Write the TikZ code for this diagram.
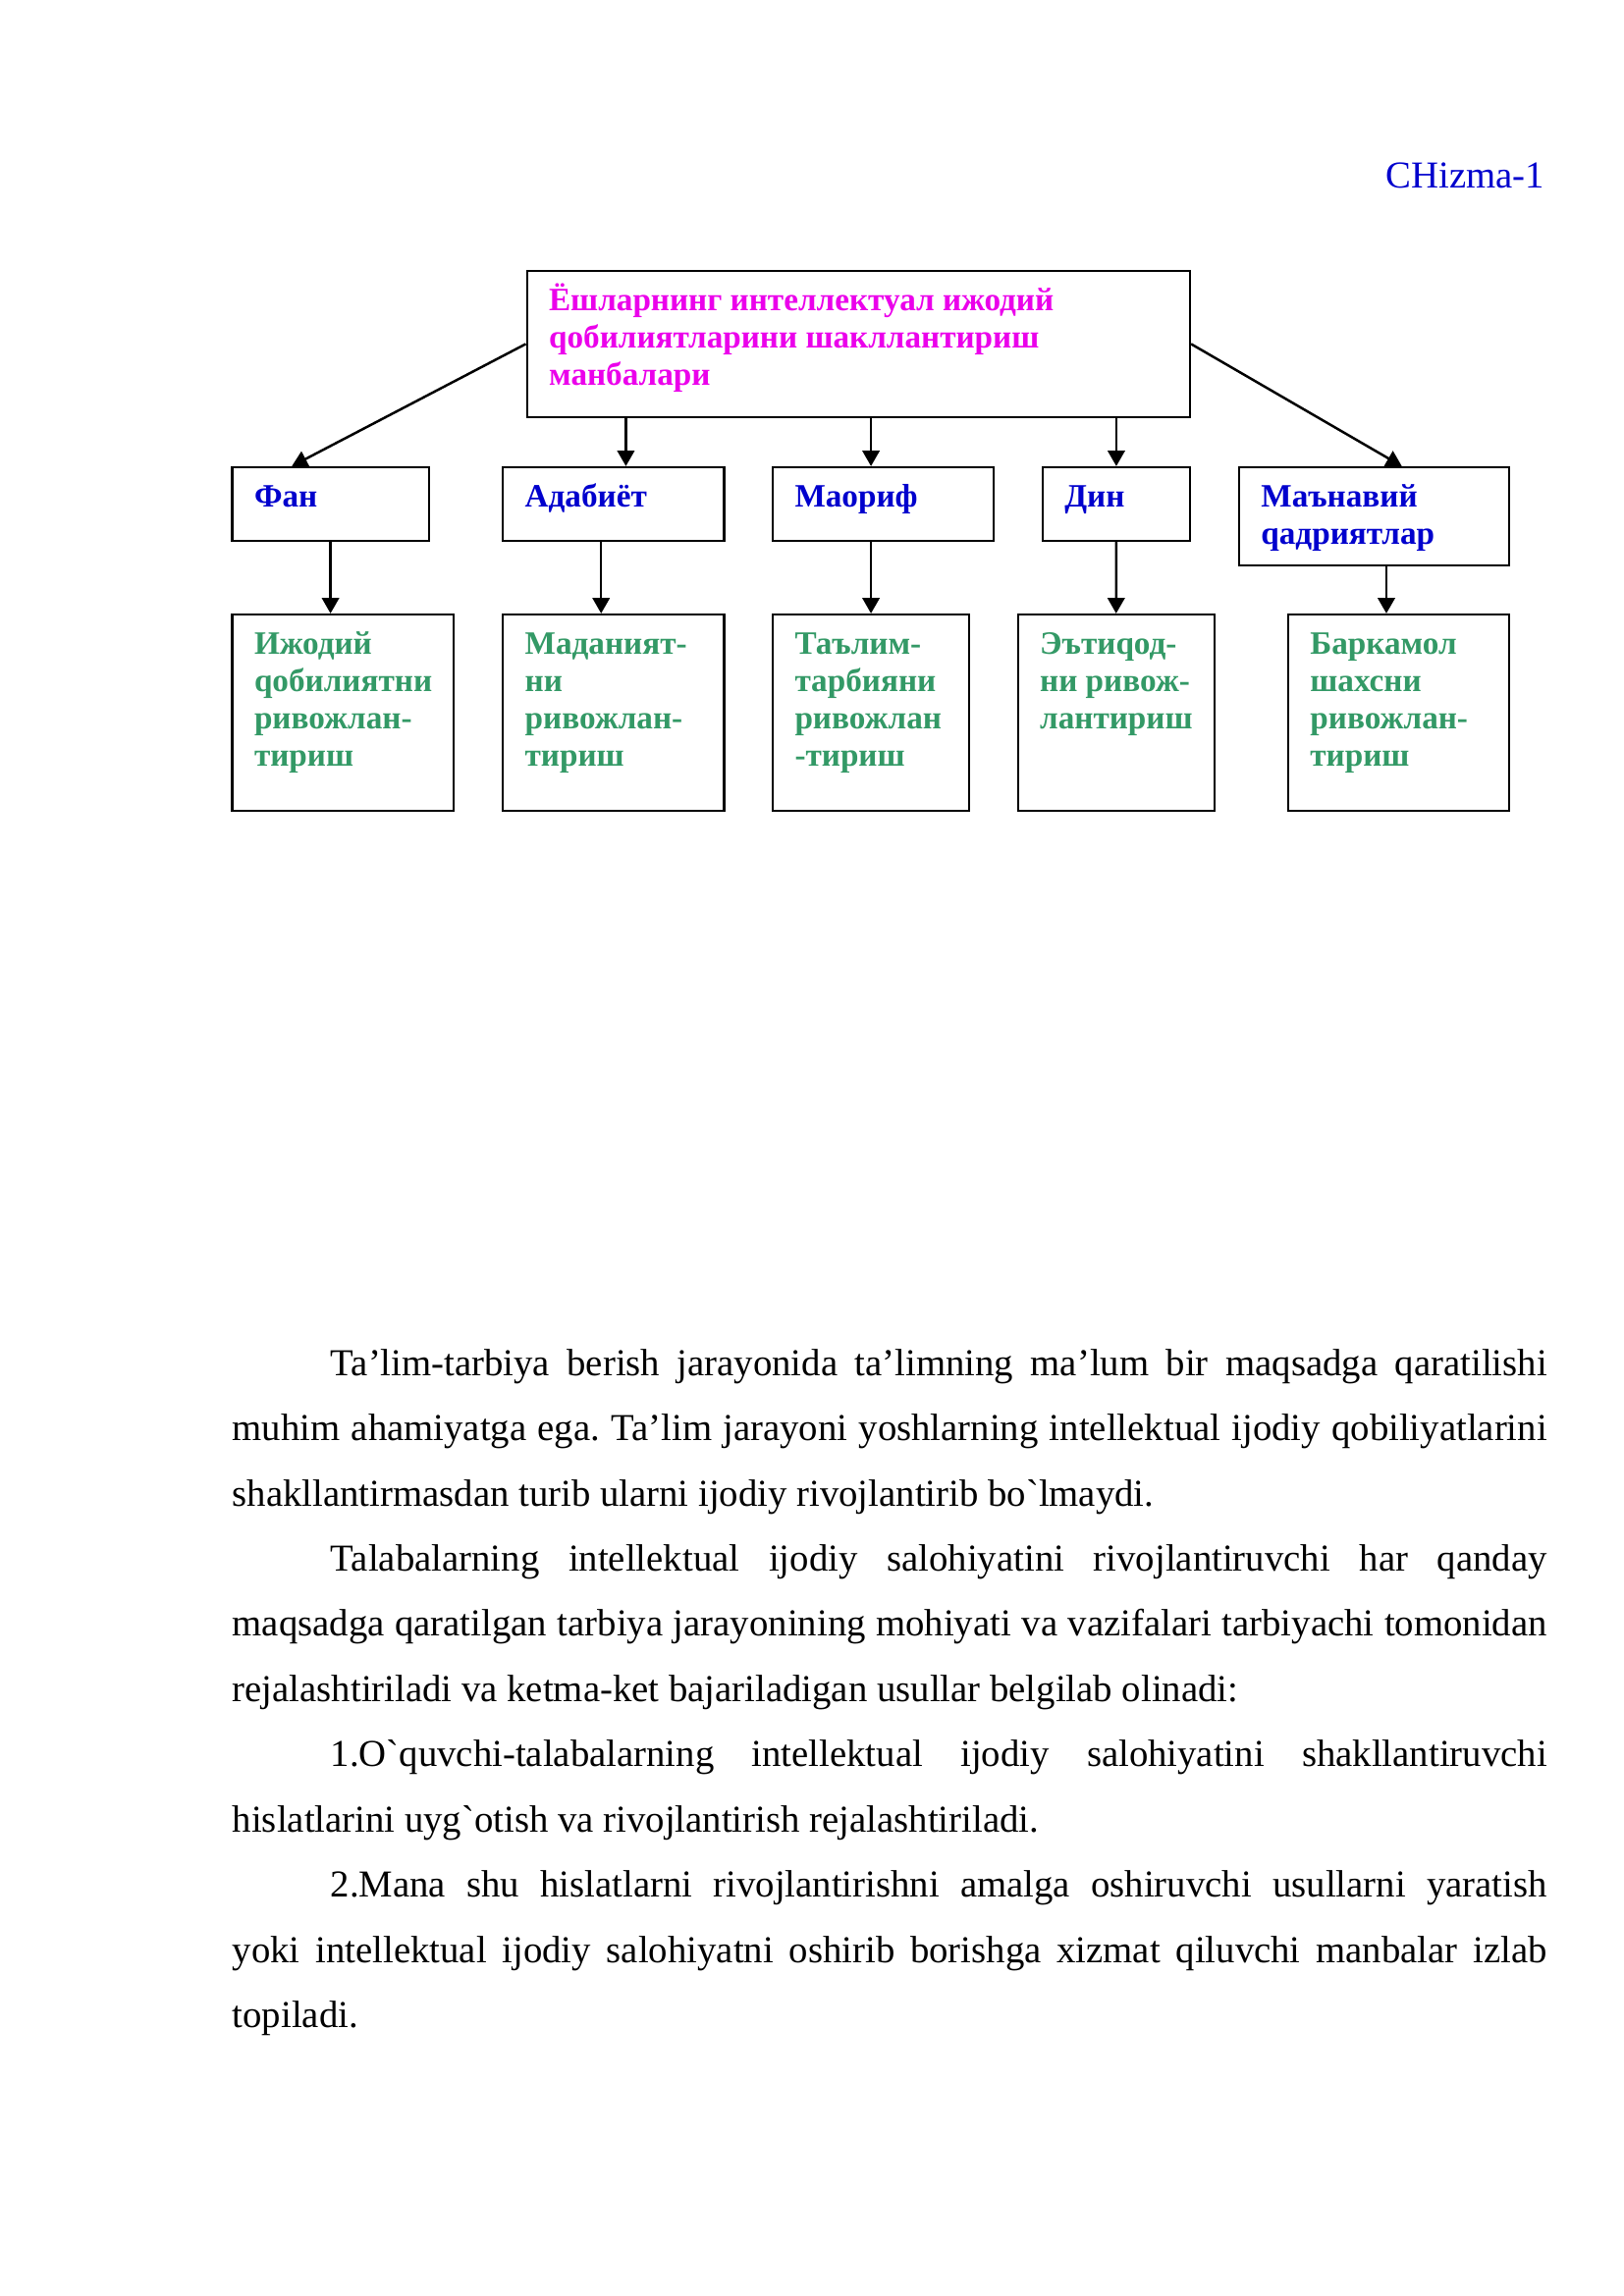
\documentclass[tikz,border=0pt]{standalone}
\usepackage{fontspec}
\setmainfont{Liberation Serif}[Ligatures=TeXOff]
\usetikzlibrary{shapes,arrows,arrows.meta}

\definecolor{headpink}{RGB}{235,0,235}
\definecolor{srcblue}{RGB}{0,0,205}
\definecolor{resgreen}{RGB}{51,153,102}

% text set at the top left of a box of given width and height
\newcommand{\boxtxt}[3]{\parbox[c][#2][t]{#1}{\raggedright\leftskip=2.85mm\relax\rule{0pt}{5.15mm}#3}}

\begin{document}
\begin{tikzpicture}[x=1mm, y=-1mm,
    block_head/.style ={rectangle, draw=black, thick, fill=white, inner sep=0pt,
      anchor=north west, text=headpink, font=\fontsize{12pt}{13.7pt}\selectfont\bfseries},
    block_src/.style ={rectangle, draw=black, thick, fill=white, inner sep=0pt,
      anchor=north west, text=srcblue, font=\fontsize{12pt}{13.7pt}\selectfont\bfseries},
    block_res/.style ={rectangle, draw=black, thick, fill=white, inner sep=0pt,
      anchor=north west, text=resgreen, font=\fontsize{12pt}{13.7pt}\selectfont\bfseries},
    block_body/.style ={rectangle, draw=none, inner sep=0pt, anchor=north west,
      text width=170mm, align=justify, font=\fontsize{14pt}{24pt}\selectfont},
      line/.style ={draw, line width=0.9pt, -{Triangle[length=2mm,width=2.2mm]}, shorten >=0pt}]
    \useasboundingbox (0,0) rectangle (210,297);
    % caption at the top right
    \node [anchor=base east, inner sep=0pt, text=srcblue,
      font=\fontsize{14pt}{16pt}\selectfont] (chizma) at (199.8,24.3) {CHizma-1};
    % top box
    \node [block_head] (sources) at (68.0,34.9)
      {\boxtxt{85.75mm}{18.9mm}{Ёшларнинг интеллектуал ижодий\\ qобилиятларини шакллантириш\\ манбалари}};
    % sources - row 2
    \node [block_src] (fan) at (29.9,60.3) {\boxtxt{25.4mm}{9.5mm}{Фан}};
    \node [block_src] (adab) at (64.9,60.3) {\boxtxt{28.6mm}{9.5mm}{Адабиёт}};
    \node [block_src] (maorif) at (99.8,60.3) {\boxtxt{28.6mm}{9.5mm}{Маориф}};
    \node [block_src] (din) at (134.7,60.3) {\boxtxt{19.05mm}{9.5mm}{Дин}};
    \node [block_src] (manaviy) at (160.1,60.3) {\boxtxt{34.9mm}{12.7mm}{Маънавий\\ qадриятлар}};
    % results - row 3
    \node [block_res] (ijod) at (29.9,79.35) {\boxtxt{28.6mm}{25.4mm}{Ижодий\\ qобилиятни\\ ривожлан-\\ тириш}};
    \node [block_res] (madan) at (64.9,79.35) {\boxtxt{28.6mm}{25.4mm}{Маданият-\\ ни\\ ривожлан-\\ тириш}};
    \node [block_res] (talim) at (99.8,79.35) {\boxtxt{25.4mm}{25.4mm}{Таълим-\\ тарбияни\\ ривожлан\\ -тириш}};
    \node [block_res] (etiqod) at (131.5,79.35) {\boxtxt{25.4mm}{25.4mm}{Эътиqод-\\ ни ривож-\\ лантириш}};
    \node [block_res] (barkamol) at (166.45,79.35) {\boxtxt{28.6mm}{25.4mm}{Баркамол\\ шахсни\\ ривожлан-\\ тириш}};
    % connecting nodes with paths
    \begin{scope}[every path/.style=line]
      % paths from the top box to the sources
      \path (sources.west) -- ([xshift=-5mm]fan.north);
      \path ([xshift=1.6mm]adab.north |- sources.south) -- ([xshift=1.6mm]adab.north);
      \path ([xshift=-1.6mm]maorif.north |- sources.south) -- ([xshift=-1.6mm]maorif.north);
      \path (din.north |- sources.south) -- (din.north);
      \path (sources.east) -- ([xshift=3.6mm]manaviy.north);
      % paths from the sources to the results
      \path (fan.south) -- (fan.south |- ijod.north);
      \path ([xshift=-1.6mm]adab.south) -- ([xshift=-1.6mm]adab.south |- madan.north);
      \path (talim.north |- maorif.south) -- (talim.north);
      \path (din.south) -- (etiqod.north);
      \path ([xshift=1.6mm]manaviy.south) -- ([xshift=1.6mm]manaviy.south |- barkamol.north);
    \end{scope}
    % text below the chart
    \node [block_body] (body) at (30,167.84) {\frenchspacing\tolerance=10000 \hyphenpenalty=10000 \exhyphenpenalty=10000
      \hspace*{12.7mm}\rule{0pt}{10mm}Ta’lim-tarbiya berish jarayonida ta’limning ma’lum bir maqsadga qaratilishi\linebreak
      muhim ahamiyatga ega. Ta’lim jarayoni yoshlarning intellektual ijodiy qobiliyatlarini\linebreak
      shakllantirmasdan turib ularni ijodiy rivojlantirib bo`lmaydi.\par
      \hspace*{12.7mm}Talabalarning intellektual ijodiy salohiyatini rivojlantiruvchi har qanday\linebreak
      maqsadga qaratilgan tarbiya jarayonining mohiyati va vazifalari tarbiyachi tomonidan\linebreak
      rejalashtiriladi va ketma-ket bajariladigan usullar belgilab olinadi:\par
      \hspace*{12.7mm}1.O`quvchi-talabalarning intellektual ijodiy salohiyatini shakllantiruvchi\linebreak
      hislatlarini uyg`otish va rivojlantirish rejalashtiriladi.\par
      \hspace*{12.7mm}2.Mana shu hislatlarni rivojlantirishni amalga oshiruvchi usullarni yaratish\linebreak
      yoki intellektual ijodiy salohiyatni oshirib borishga xizmat qiluvchi manbalar izlab\linebreak
      topiladi.};
  \end{tikzpicture}
\end{document}
